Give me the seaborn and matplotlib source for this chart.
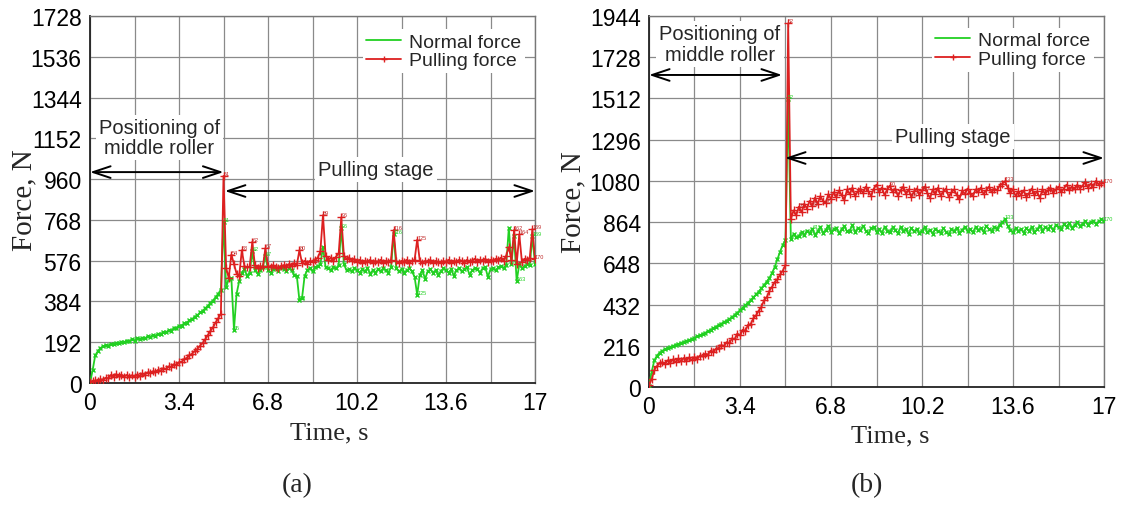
import numpy as np
import pandas as pd
import matplotlib
matplotlib.use("Agg")
import matplotlib.pyplot as plt
from matplotlib.ticker import MultipleLocator
import seaborn as sns

# ---------------- data (sampled every 0.1 s, samples 0..170) ----------------
time_s = [round(i * 0.1, 1) for i in range(171)]

normal_a = [
    0, 60, 130, 150, 165, 172, 178, 176, 185, 182,
    190, 186, 195, 192, 200, 196, 205, 200, 210, 205,
    214, 210, 220, 216, 226, 222, 232, 230, 240, 238,
    248, 247, 258, 258, 270, 270, 282, 284, 296, 300,
    313, 318, 332, 338, 352, 362, 378, 388, 405, 420,
    440, 760, 450, 490, 495, 250, 420, 480, 520, 535,
    505, 520, 620, 530, 515, 530, 545, 600, 530, 520,
    535, 540, 528, 545, 535, 525, 540, 530, 510, 505,
    390, 400, 505, 530, 540, 525, 545, 550, 560, 640,
    545, 540, 530, 548, 540, 555, 730, 560, 530, 535,
    525, 540, 530, 520, 535, 525, 540, 515, 530, 520,
    535, 525, 540, 530, 520, 545, 700, 540, 525, 535,
    520, 530, 540, 525, 500, 415, 510, 530, 490, 525,
    535, 520, 530, 510, 525, 540, 530, 520, 535, 505,
    530, 540, 525, 535, 545, 510, 530, 540, 535, 520,
    540, 545, 500, 535, 540, 530, 545, 550, 540, 555,
    730, 560, 690, 480, 560, 540, 550, 560, 555, 690,
    560,
]
pulling_a = [
    5, 8, 12, 10, 18, 15, 25, 22, 38, 30,
    42, 32, 40, 30, 38, 28, 36, 30, 40, 35,
    45, 40, 50, 45, 55, 50, 62, 58, 70, 65,
    78, 75, 88, 85, 98, 100, 112, 118, 130, 138,
    150, 160, 175, 188, 205, 225, 245, 262, 285, 305,
    325, 975, 540, 495, 605, 560, 515, 505, 625, 550,
    545, 548, 665, 555, 540, 550, 545, 635, 550, 545,
    555, 545, 540, 550, 555, 545, 560, 550, 565, 555,
    625, 565, 575, 560, 575, 570, 580, 590, 620, 790,
    600, 580, 590, 575, 595, 610, 780, 600, 585, 590,
    575, 585, 570, 580, 565, 575, 570, 580, 565, 575,
    570, 580, 565, 575, 570, 580, 720, 575, 565, 575,
    570, 580, 565, 575, 580, 675, 575, 565, 575, 570,
    580, 565, 575, 570, 565, 575, 570, 580, 565, 575,
    570, 580, 575, 565, 580, 570, 575, 585, 570, 580,
    575, 585, 570, 580, 575, 585, 580, 590, 575, 600,
    640, 580, 720, 560, 700, 570, 585, 580, 590, 725,
    585,
]
normal_b = [
    5, 80, 140, 165, 180, 190, 198, 205, 210, 215,
    222, 225, 232, 236, 242, 246, 252, 258, 265, 270,
    278, 284, 292, 300, 308, 316, 325, 332, 340, 348,
    356, 366, 378, 390, 402, 415, 428, 442, 455, 470,
    485, 500, 518, 535, 552, 572, 598, 630, 670, 710,
    745, 770, 1510, 775, 800, 785, 790, 812, 795, 820,
    805, 830, 798, 815, 840, 808, 822, 845, 812, 826,
    835, 806, 828, 842, 815, 820, 848, 812, 833, 822,
    845, 818, 805, 832, 840, 812, 826, 808, 838, 820,
    812, 836, 822, 805, 840, 818, 826, 800, 832, 815,
    828, 806, 820, 838, 810, 824, 802, 830, 816, 808,
    832, 812, 800, 826, 818, 835, 808, 822, 840, 815,
    826, 810, 838, 822, 832, 812, 845, 826, 818, 840,
    830, 850, 862, 880, 845, 822, 810, 834, 816, 828,
    808, 832, 818, 840, 812, 826, 845, 820, 836, 828,
    842, 822, 850, 836, 828, 852, 840, 858, 835, 848,
    862, 845, 855, 870, 850, 864, 872, 855, 868, 878,
    868,
]
pulling_b = [
    10, 40, 90, 110, 125, 130, 120, 140, 128, 145,
    130, 150, 135, 152, 138, 155, 140, 158, 145, 165,
    160, 175, 170, 190, 185, 200, 205, 220, 215, 235,
    230, 255, 250, 280, 270, 300, 295, 325, 330, 360,
    375, 400, 420, 455, 470, 505, 525, 550, 565, 590,
    610, 640, 1905, 880, 925, 900, 945, 915, 960, 935,
    975, 948, 992, 960, 1000, 975, 965, 1010, 985, 1020,
    995, 1030, 1005, 980, 1035, 1010, 1045, 1000, 1025, 1040,
    1015, 1050, 1025, 1000, 1040, 1060, 1020, 1045, 1005, 1035,
    1055, 1020, 1040, 1000, 1030, 1050, 1010, 1035, 995, 1025,
    1040, 1005, 1030, 1050, 1015, 990, 1035, 1010, 1045, 1000,
    1025, 1040, 995, 1020, 1035, 1005, 985, 1030, 1010, 1040,
    1015, 1000, 1035, 1020, 1045, 1010, 1030, 1050, 1020, 1040,
    1030, 1055, 1065, 1078, 1045, 1015, 1035, 1000, 1025, 1005,
    1030, 995, 1015, 1040, 1005, 1025, 990, 1035, 1010, 1030,
    1045, 1015, 1035, 1050, 1020, 1040, 1060, 1030, 1050, 1035,
    1060, 1040, 1055, 1075, 1045, 1065, 1050, 1080, 1060, 1070,
    1068,
]

# sample numbers printed next to points by the recording software
labels_normal_a = [51, 55, 62, 67, 80, 96, 116, 125, 163, 169]
labels_pulling_a = [51, 54, 58, 62, 67, 80, 89, 96, 116, 125, 162, 164, 169, 170]
labels_normal_b = [52, 56, 61, 66, 90, 133, 170]
labels_pulling_b = [52, 56, 61, 66, 90, 98, 102, 133, 170]

xticks = [0, 3.4, 6.8, 10.2, 13.6, 17]
xtick_labels = ["0", "3.4", "6.8", "10.2", "13.6", "17"]
yticks_a = [0, 192, 384, 576, 768, 960, 1152, 1344, 1536, 1728]
yticks_b = [0, 216, 432, 648, 864, 1080, 1296, 1512, 1728, 1944]

series_names = ["Normal force", "Pulling force"]
panel_letters = ["(a)", "(b)"]
stage_texts = ["Positioning of\nmiddle roller", "Pulling stage"]

# ---------------- style ----------------
sns.set_style("white")
plt.rcParams["font.family"] = ["Liberation Sans", "DejaVu Sans"]
SERIF = ["Liberation Serif", "DejaVu Serif"]

GREEN = "#22d022"
RED = "#dd2020"

fig = plt.figure(figsize=(11.24, 5.06), dpi=100)
ax_a = fig.add_axes([90 / 1124, 1 - 384 / 506, 445 / 1124, 367 / 506])
ax_b = fig.add_axes([649 / 1124, 1 - 388 / 506, 455 / 1124, 371 / 506])

panels = [
    dict(ax=ax_a, n=normal_a, p=pulling_a, yt=yticks_a, ln=labels_normal_a, lp=labels_pulling_a,
         pos_y=993, pull_y=904, pos_text=(2.64, 1156), pull_text=(10.92, 1003),
         pos_end=5.1, pull_start=5.15, ylab_x=-0.118, xlab=(0.537, -0.106),
         letter=(297, 486), leg=(1.0, 0.99)),
    dict(ax=ax_b, n=normal_b, p=pulling_b, yt=yticks_b, ln=labels_normal_b, lp=labels_pulling_b,
         pos_y=1635, pull_y=1200, pos_text=(2.65, 1797), pull_text=(11.36, 1315),
         pos_end=4.97, pull_start=5.08, ylab_x=-0.138, xlab=(0.53, -0.10),
         letter=(867, 486), leg=(1.0, 0.995)),
]

for i, P in enumerate(panels):
    ax = P["ax"]
    df = pd.DataFrame({"t": time_s, series_names[0]: P["n"], series_names[1]: P["p"]})
    sns.lineplot(data=df, x="t", y=series_names[0], ax=ax, color=GREEN, lw=1.3,
                 linestyle="-", marker="x", markersize=3.5, markeredgewidth=1.0,
                 markeredgecolor=GREEN, estimator=None, sort=False,
                 label=series_names[0], zorder=3)
    sns.lineplot(data=df, x="t", y=series_names[1], ax=ax, color=RED, lw=1.3,
                 linestyle="-", marker="+", markersize=5.5, markeredgewidth=1.0,
                 markeredgecolor=RED, estimator=None, sort=False,
                 label=series_names[1], zorder=4)

    # tiny sample-number labels
    for k in P["ln"]:
        ax.text(time_s[k], P["n"][k], str(k), fontsize=4, color=GREEN,
                ha="left", va="bottom", zorder=5)
    for k in P["lp"]:
        ax.text(time_s[k], P["p"][k], str(k), fontsize=4, color="#c02828",
                ha="left", va="bottom", zorder=5)

    ymax = P["yt"][-1]
    ax.set_xlim(0, 17)
    ax.set_ylim(0, ymax)
    ax.set_xticks(xticks)
    ax.set_xticklabels(xtick_labels)
    ax.xaxis.set_minor_locator(MultipleLocator(1.7))
    ax.set_yticks(P["yt"])
    ax.set_yticklabels([str(v) for v in P["yt"]])
    ax.tick_params(axis="both", which="both", length=0, labelsize=16.5, pad=6, colors="black")
    ax.grid(True, which="both", axis="x", color="#8a8a8a", lw=0.9)
    ax.grid(True, which="major", axis="y", color="#8a8a8a", lw=0.9)
    for side in ["top", "right"]:
        ax.spines[side].set_color("#777777")
        ax.spines[side].set_linewidth(1.0)
    for side in ["left", "bottom"]:
        ax.spines[side].set_color("#222222")
        ax.spines[side].set_linewidth(1.3)

    ax.set_ylabel("Force, N", fontsize=21, family=SERIF)
    ax.yaxis.set_label_coords(P["ylab_x"], 0.5)
    ax.set_xlabel("Time, s", fontsize=19, family=SERIF)
    ax.xaxis.set_label_coords(*P["xlab"])

    # stage arrows and texts
    arrow_kw = dict(arrowstyle="<->,head_length=0.9,head_width=0.3", lw=1.4,
                    color="black", shrinkA=0, shrinkB=0, mutation_scale=14)
    ax.annotate("", xy=(0, P["pos_y"]), xytext=(P["pos_end"], P["pos_y"]),
                arrowprops=arrow_kw, zorder=6, annotation_clip=False)
    ax.annotate("", xy=(P["pull_start"], P["pull_y"]), xytext=(17, P["pull_y"]),
                arrowprops=arrow_kw, zorder=6, annotation_clip=False)
    bbox = dict(boxstyle="square,pad=0.15", fc="white", ec="none")
    ax.text(*P["pos_text"], stage_texts[0], fontsize=14.5, ha="center", va="center",
            linespacing=1.1, bbox=bbox, zorder=6)
    ax.text(*P["pull_text"], stage_texts[1], fontsize=14.5, ha="center", va="center",
            bbox=bbox, zorder=6)

    leg = ax.legend(loc="upper right", bbox_to_anchor=P["leg"], fontsize=14,
                    frameon=True, framealpha=1, facecolor="white", edgecolor="none",
                    handlelength=1.8, handletextpad=0.4, labelspacing=0.05,
                    borderpad=0.2, fancybox=False)
    leg.legend_handles[0].set_marker("")
    leg.legend_handles[1].set_markersize(4)
    leg.set_zorder(7)

    fig.text(P["letter"][0] / 1124, 1 - P["letter"][1] / 506, panel_letters[i],
             fontsize=20, family=SERIF, ha="center", va="center")

fig.savefig("out.png", dpi=100, facecolor="white")
